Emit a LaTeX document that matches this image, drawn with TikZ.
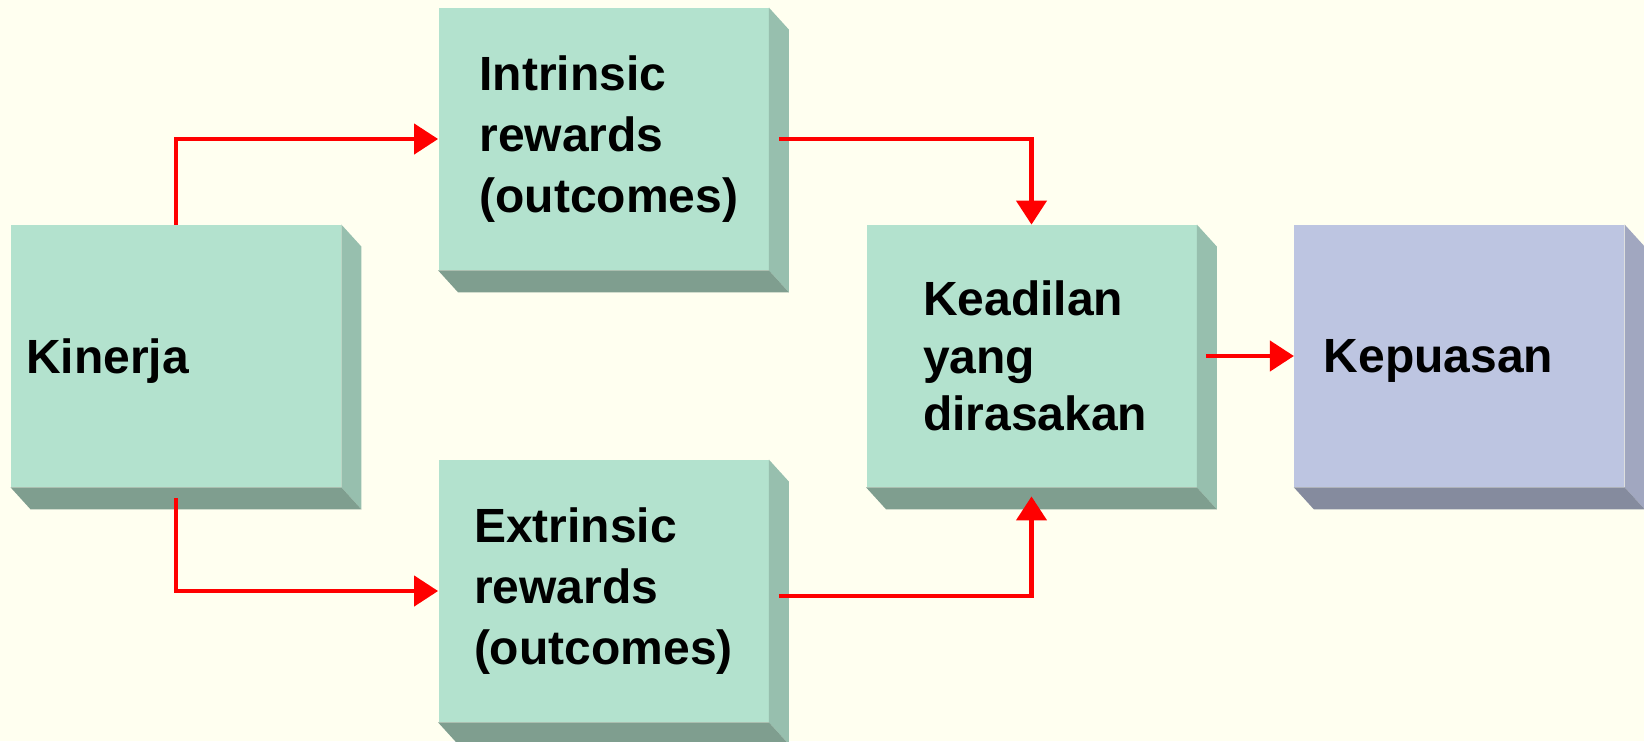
\documentclass[tikz,border=0pt]{standalone}
\usepackage{fontspec}
\setmainfont{Liberation Sans}
\usepackage{xcolor}
\usepackage{tikz}
\usetikzlibrary{arrows.meta,positioning}
\hyphenpenalty=10000
\exhyphenpenalty=10000
\hbadness=10000
\hfuzz=100pt
\definecolor{pagecream}{RGB}{255,255,240}
\definecolor{boxgreen}{RGB}{179,226,206}
\definecolor{boxgreenside}{RGB}{151,191,174}
\definecolor{boxgreenbottom}{RGB}{127,158,143}
\definecolor{boxblue}{RGB}{189,197,225}
\definecolor{boxblueside}{RGB}{161,167,192}
\definecolor{boxbluebottom}{RGB}{133,139,158}
\definecolor{linkred}{RGB}{255,0,0}
\tikzset{
  facebox/.style={
    rectangle,
    minimum width=165pt,
    minimum height=131pt,
    inner xsep=0pt,
    inner ysep=0pt,
    align=left,
    text width=#1,
    font=\bfseries\fontsize{24pt}{30.5pt}\selectfont
  },
  linkarrow/.style={
    -{Triangle[length=12pt,width=15pt]},
    line width=2.2pt,
    draw=linkred
  }
}

\begin{document}
\begin{tikzpicture}[x=0.5pt, y=-0.5pt]
\useasboundingbox (0,0) rectangle (1644,741);
\fill[pagecream] (0,0) rectangle (1644,741);

\node[facebox=150pt, fill=boxgreen, text depth=0pt] (kin) at (176,356) {Kinerja};
\node[facebox=124pt, fill=boxgreen] (intr) at (603.5,139) {Intrinsic\\rewards\\(outcomes)};
\node[facebox=129.5pt, fill=boxgreen] (extr) at (603.5,591) {Extrinsic\\rewards\\(outcomes)};
\node[facebox=108.5pt, fill=boxgreen, font=\bfseries\fontsize{24pt}{28.75pt}\selectfont] (kead) at (1031.5,356) {Keadilan\\yang\\dirasakan};
\node[facebox=135.5pt, fill=boxblue, text depth=0pt, right=48.5pt of kead] (kep) {Kepuasan};

% side and bottom faces
\foreach \n/\sc/\bc in {kin/boxgreenside/boxgreenbottom, intr/boxgreenside/boxgreenbottom,
    extr/boxgreenside/boxgreenbottom, kead/boxgreenside/boxgreenbottom, kep/boxblueside/boxbluebottom} {
  \fill[\sc] (\n.north east) -- ([shift={(20,22)}]\n.north east) -- ([shift={(20,22)}]\n.south east) -- (\n.south east) -- cycle;
  \fill[\bc] (\n.south west) -- (\n.south east) -- ([shift={(20,22)}]\n.south east) -- ([shift={(20,22)}]\n.south west) -- cycle;
}

\draw[linkarrow] (kin.north) |- (intr.west);
\draw[linkarrow] ([yshift=-5.5pt]kin.south) |- (extr.west);
\draw[linkarrow] ([xshift=5pt]intr.east) -| (kead.north);
\draw[linkarrow] ([shift={(5pt,-2.5pt)}]extr.east) -| ([yshift=-4.5pt]kead.south);
\draw[linkarrow] ([xshift=4.5pt]kead.east) -- (kep.west);
\end{tikzpicture}
\end{document}
